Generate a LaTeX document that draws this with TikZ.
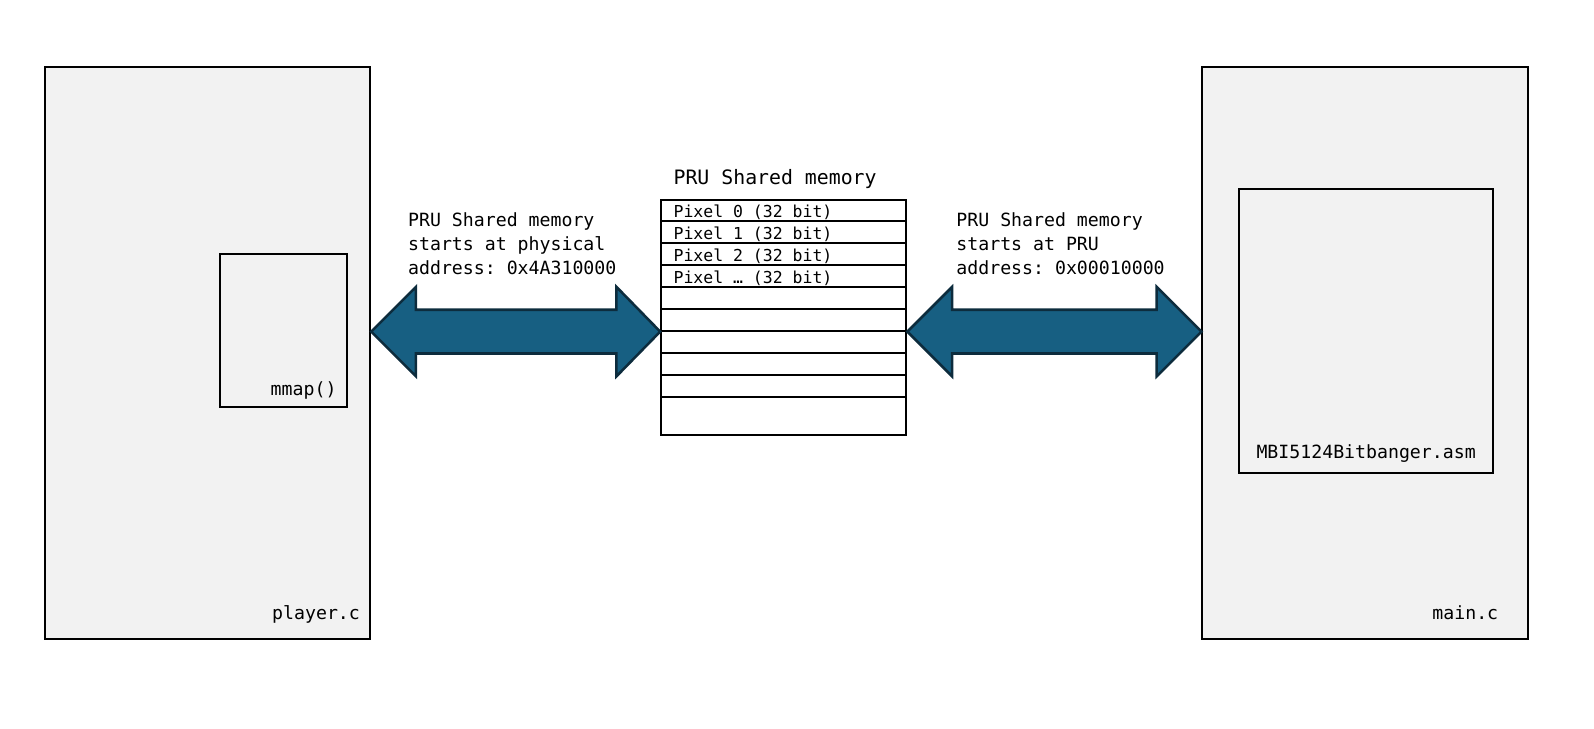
\documentclass[tikz,border=0pt]{standalone}
\usepackage{fontspec}
\setmonofont{DejaVu Sans Mono}
\usetikzlibrary{calc}
\definecolor{panelgray}{HTML}{F2F2F2}
\definecolor{arrowfill}{HTML}{175F82}
\definecolor{arrowline}{HTML}{0D2C3D}
\tikzset{
  panel/.style={draw=black, line width=1.8pt, fill=panelgray, inner sep=0pt},
  innerbox/.style={draw=black, line width=1.8pt, fill=panelgray, inner sep=0pt},
  memtable/.style={draw=black, line width=2pt, fill=white, inner sep=0pt},
  lbl/.style={font=\ttfamily\fontsize{17.9}{23.5}\selectfont, inner sep=0pt, align=left},
  rowlbl/.style={font=\ttfamily\fontsize{16.2}{18}\selectfont, inner sep=0pt},
  titlelbl/.style={font=\ttfamily\fontsize{19.5}{22}\selectfont, inner sep=0pt},
  bigarrow/.style={draw=arrowline, line width=2.5pt, fill=arrowfill, line join=miter}
}
\begin{document}
\begin{tikzpicture}[x=1pt,y=-1pt]
\useasboundingbox (0,0) rectangle (1567,716.2);
% left panel
\node[panel, minimum width=320pt, minimum height=562pt] (player) at (204,347) {};
\node[innerbox, minimum width=125pt, minimum height=150pt] (mmapbox) at (278.5,325) {};
\node[lbl, anchor=base east] (mmaplbl) at (331,389) {mmap()};
\node[lbl, anchor=base east] (playerlbl) at (354,609) {player.c};
% right panel
\node[panel, minimum width=320pt, minimum height=562pt] (mainc) at (1342,347) {};
\node[innerbox, minimum width=250pt, minimum height=279pt] (asmbox) at (1343,325.5) {};
\node[lbl, anchor=base] (asmlbl) at (1343,451) {MBI5124Bitbanger.asm};
\node[lbl, anchor=base east] (mainlbl) at (1473,609) {main.c};
% memory table
\node[titlelbl, anchor=base west] (memtitle) at (662,181) {PRU Shared memory};
\node[memtable, minimum width=241pt, minimum height=231pt] (mem) at (770.5,312.5) {};
\foreach \k in {1,...,9}{
  \draw[line width=1.8pt] ([yshift=-21.6*\k pt]mem.north west) -- ([yshift=-21.6*\k pt]mem.north east);
}
\node[rowlbl, anchor=base west] (p0) at (662,214) {Pixel 0 (32 bit)};
\node[rowlbl, anchor=base west] (p1) at (662,235.6) {Pixel 1 (32 bit)};
\node[rowlbl, anchor=base west] (p2) at (662,257.2) {Pixel 2 (32 bit)};
\node[rowlbl, anchor=base west] (p3) at (662,278.8) {Pixel … (32 bit)};
% labels
\node[lbl, anchor=base west] (leftlbl) at (401,269.5) {PRU Shared memory\\starts at physical\\address: 0x4A310000};
\node[lbl, anchor=base west] (rightlbl) at (940,269.5) {PRU Shared memory\\starts at PRU\\address: 0x00010000};
% arrows
\coordinate (la) at (player.east |- 0,326);
\coordinate (lb) at (mem.west |- 0,326);
\coordinate (ra) at (mem.east |- 0,326);
\coordinate (rb) at (mainc.west |- 0,326);
\draw[bigarrow] (la) -- ($(la)+(44,-44)$) -- ($(la)+(44,-21.5)$) -- ($(lb)+(-43,-21.5)$) -- ($(lb)+(-43,-44)$) -- (lb)
  -- ($(lb)+(-43,44)$) -- ($(lb)+(-43,21.5)$) -- ($(la)+(44,21.5)$) -- ($(la)+(44,44)$) -- cycle;
\draw[bigarrow] (ra) -- ($(ra)+(44,-44)$) -- ($(ra)+(44,-21.5)$) -- ($(rb)+(-44,-21.5)$) -- ($(rb)+(-44,-44)$) -- (rb)
  -- ($(rb)+(-44,44)$) -- ($(rb)+(-44,21.5)$) -- ($(ra)+(44,21.5)$) -- ($(ra)+(44,44)$) -- cycle;
\end{tikzpicture}
\end{document}
